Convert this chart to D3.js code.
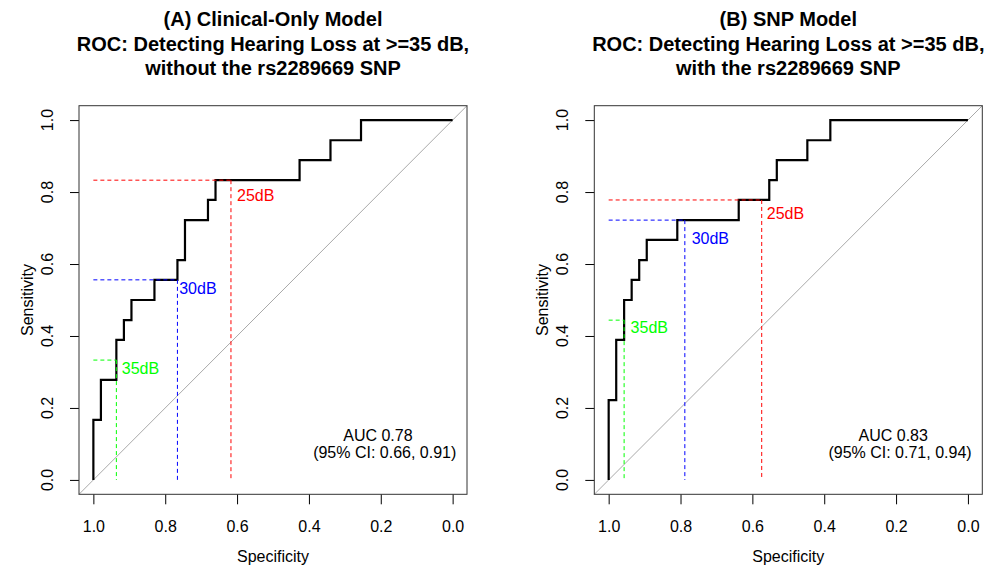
<!DOCTYPE html>
<html>
<head>
<meta charset="utf-8">
<script src="https://cdn.jsdelivr.net/npm/d3@7"></script>
<style>
  body { margin: 0; background: #fff; }
  svg text { font-family: "Liberation Sans", Arial, Helvetica, sans-serif; }
</style>
</head>
<body>
<svg width="991" height="568"></svg>
<script>
// ROC curve vertices (specificity, sensitivity), step after
var specA = [1, 1, 0.979, 0.936, 0.915, 0.894, 0.830, 0.766, 0.745, 0.681, 0.660, 0.426, 0.340, 0.255, 0];
var sensA = [0, 0.167, 0.278, 0.389, 0.444, 0.500, 0.556, 0.611, 0.722, 0.778, 0.833, 0.889, 0.944, 1, 1];
var specB = [1, 1, 0.979, 0.957, 0.936, 0.915, 0.894, 0.809, 0.638, 0.553, 0.532, 0.447, 0.383, 0];
var sensB = [0, 0.222, 0.389, 0.500, 0.556, 0.611, 0.667, 0.722, 0.778, 0.833, 0.889, 0.944, 1, 1];

// thresholds
var thrLabels = ["25dB", "30dB", "35dB"];
var thrColors = ["#ff0000", "#0000ff", "#00ff00"];
var thrSpecA = [0.617, 0.766, 0.936];
var thrSensA = [0.833, 0.556, 0.333];
var thrSpecB = [0.574, 0.788, 0.957];
var thrSensB = [0.778, 0.722, 0.444];
// label anchor points (data units)
var lblSpecA = [0.600, 0.761, 0.921];
var lblSensA = [0.792, 0.534, 0.311];
var lblSpecB = [0.560, 0.769, 0.939];
var lblSensB = [0.741, 0.671, 0.424];

var titlesA = ["(A) Clinical-Only Model", "ROC: Detecting Hearing Loss at >=35 dB,", "without the rs2289669 SNP"];
var titlesB = ["(B) SNP Model", "ROC: Detecting Hearing Loss at >=35 dB,", "with the rs2289669 SNP"];
var aucText = [["AUC 0.78", "(95% CI: 0.66, 0.91)"], ["AUC 0.83", "(95% CI: 0.71, 0.94)"]];

var tickVals = [1, 0.8, 0.6, 0.4, 0.2, 0];

var svg = d3.select("svg");
var boxW = 388, boxTop = 105.7, boxBot = 494.3;

var panels = [
  {left: 79, spec: specA, sens: sensA, tSpec: thrSpecA, tSens: thrSensA, lSpec: lblSpecA, lSens: lblSensA, titles: titlesA, auc: aucText[0]},
  {left: 594.3, spec: specB, sens: sensB, tSpec: thrSpecB, tSens: thrSensB, lSpec: lblSpecB, lSens: lblSensB, titles: titlesB, auc: aucText[1]}
];

panels.forEach(function(p) {
  var x = d3.scaleLinear().domain([1.04, -0.04]).range([p.left, p.left + boxW]);
  var y = d3.scaleLinear().domain([-0.04, 1.04]).range([boxBot, boxTop]);
  var g = svg.append("g");
  var cx = p.left + boxW / 2;

  // titles
  g.selectAll("text.title")
    .data(p.titles)
    .enter().append("text")
      .attr("class", "title")
      .attr("x", cx)
      .attr("y", function(d, i) { return 26 + i * 24.5; })
      .attr("text-anchor", "middle")
      .attr("font-size", "20px")
      .attr("font-weight", "bold")
      .text(function(d) { return d; });

  // diagonal
  g.append("line")
    .attr("x1", x(1.04)).attr("y1", y(-0.04))
    .attr("x2", x(-0.04)).attr("y2", y(1.04))
    .attr("stroke", "#a9a9a9").attr("stroke-width", 1);

  // x axis
  var xAxis = g.append("g")
    .attr("transform", "translate(0," + boxBot + ")")
    .call(d3.axisBottom(x).tickValues(tickVals).tickSize(10).tickSizeOuter(0).tickPadding(16)
      .tickFormat(d3.format(".1f")));
  xAxis.select(".domain").remove();
  xAxis.selectAll("line").attr("stroke", "#000");
  xAxis.selectAll("text").attr("font-size", "16px").attr("fill", "#000")
    .style("font-family", "'Liberation Sans', Arial, sans-serif");

  // y axis
  var yAxis = g.append("g")
    .attr("transform", "translate(" + p.left + ",0)")
    .call(d3.axisLeft(y).tickValues(tickVals).tickSize(9).tickSizeOuter(0).tickFormat(""));
  yAxis.select(".domain").remove();
  yAxis.selectAll("line").attr("stroke", "#000");
  g.selectAll("text.ytick")
    .data(tickVals)
    .enter().append("text")
      .attr("class", "ytick")
      .attr("transform", function(d) { return "translate(" + (p.left - 26) + "," + y(d) + ") rotate(-90)"; })
      .attr("text-anchor", "middle")
      .attr("font-size", "16px")
      .text(function(d) { return d3.format(".1f")(d); });

  // axis labels
  g.append("text")
    .attr("x", cx).attr("y", 561.5)
    .attr("text-anchor", "middle").attr("font-size", "16px")
    .text("Specificity");
  g.append("text")
    .attr("transform", "translate(" + (p.left - 46.5) + "," + ((boxTop + boxBot) / 2) + ") rotate(-90)")
    .attr("text-anchor", "middle").attr("font-size", "16px")
    .text("Sensitivity");

  // ROC curve
  var pts = p.spec.map(function(s, i) { return [s, p.sens[i]]; });
  var line = d3.line()
    .x(function(d) { return x(d[0]); })
    .y(function(d) { return y(d[1]); })
    .curve(d3.curveStepAfter);
  g.append("path")
    .datum(pts)
    .attr("d", line)
    .attr("fill", "none")
    .attr("stroke", "#000")
    .attr("stroke-width", 2.2);

  // thresholds
  thrLabels.forEach(function(lab, i) {
    var col = thrColors[i];
    g.append("line")
      .attr("x1", x(1)).attr("y1", y(p.tSens[i]))
      .attr("x2", x(p.tSpec[i])).attr("y2", y(p.tSens[i]))
      .attr("stroke", col).attr("stroke-dasharray", "4,3");
    g.append("line")
      .attr("x1", x(p.tSpec[i])).attr("y1", y(p.tSens[i]))
      .attr("x2", x(p.tSpec[i])).attr("y2", y(0))
      .attr("stroke", col).attr("stroke-dasharray", "4,3");
    g.append("text")
      .attr("x", x(p.lSpec[i])).attr("y", y(p.lSens[i]))
      .attr("dy", "0.36em")
      .attr("font-size", "16px")
      .attr("fill", col)
      .text(lab);
  });

  // AUC text
  g.append("text")
    .attr("x", x(0.208)).attr("y", y(0.108))
    .attr("text-anchor", "middle").attr("font-size", "16px")
    .text(p.auc[0]);
  g.append("text")
    .attr("x", x(0.189)).attr("y", y(0.061))
    .attr("text-anchor", "middle").attr("font-size", "16px")
    .text(p.auc[1]);

  // box
  g.append("rect")
    .attr("x", p.left).attr("y", boxTop)
    .attr("width", boxW).attr("height", boxBot - boxTop)
    .attr("fill", "none").attr("stroke", "#333").attr("stroke-width", 1);
});
</script>
</body>
</html>
